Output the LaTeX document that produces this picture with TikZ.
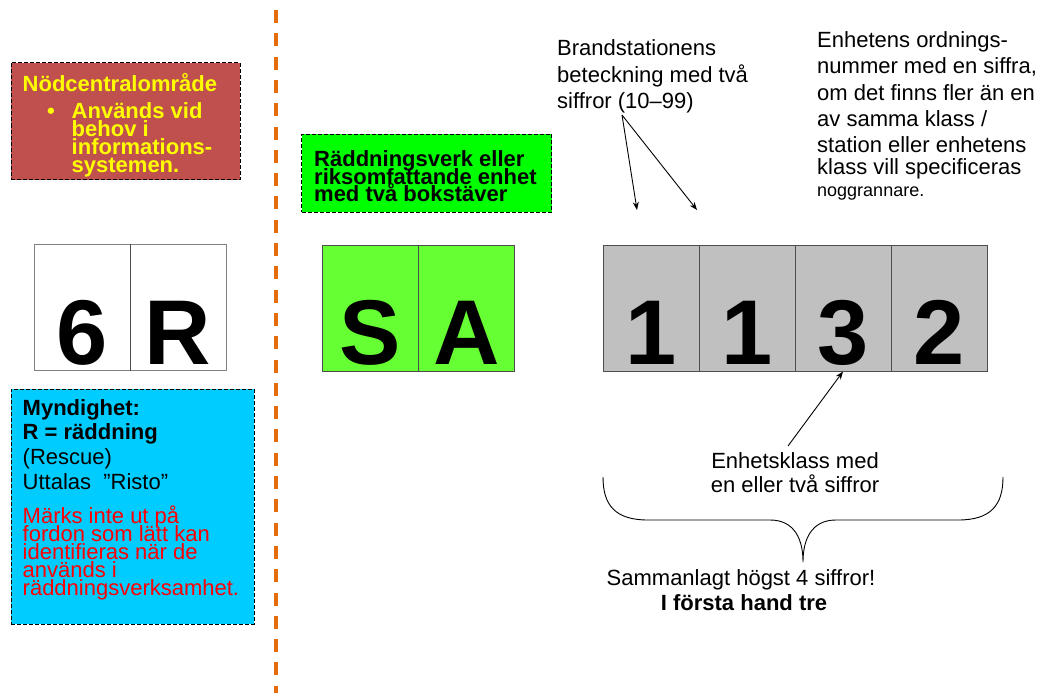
\documentclass[tikz,border=0pt]{standalone}
\usepackage{fontspec}
\setmainfont{Liberation Sans}
\usetikzlibrary{arrows.meta}
\definecolor{redfill}{HTML}{C0504D}
\definecolor{bluefill}{HTML}{00CCFF}
\definecolor{greenfill}{HTML}{00FF00}
\definecolor{safill}{HTML}{66FF33}
\definecolor{grayfill}{HTML}{C0C0C0}
\definecolor{txtyellow}{HTML}{FFFF00}
\definecolor{txtred}{HTML}{FF0000}
\definecolor{orangeline}{HTML}{E46C0A}
\definecolor{boxedge}{HTML}{4D4D4D}
\tikzset{
  infobox/.style={draw=black, dash pattern=on 4pt off 2pt, line width=0.8pt, inner sep=0pt},
  cellbox/.style={draw=boxedge, line width=1pt, inner sep=0pt, minimum width=96pt, minimum height=126pt},
  digit/.style={anchor=base, inner sep=0pt, font=\fontsize{92}{92}\selectfont\bfseries},
  ln/.style={anchor=base west, inner sep=0pt, font=\fontsize{22}{22}\selectfont},
  lnb/.style={ln, font=\fontsize{22}{22}\selectfont\bfseries},
  lnc/.style={anchor=base, inner sep=0pt, font=\fontsize{22}{22}\selectfont},
  arr/.style={-{Stealth[length=8pt,width=6pt]}, line width=0.9pt, black},
}
\begin{document}
\begin{tikzpicture}[x=1pt,y=-1pt]
\useasboundingbox (0,0) rectangle (1040,693);
% orange separator
\coordinate (sepTop) at (276,10);
\coordinate (sepBot) at (276,693);
\draw[orangeline, line width=4.5pt, dash pattern=on 13pt off 10.3pt] (sepTop) -- (sepBot);

% red box
\node[infobox, fill=redfill, minimum width=229pt, minimum height=117pt] (redbox) at (125.5,121) {};
\node[lnb, text=txtyellow] (r1) at (22.5,91.5) {Nödcentralområde};
\node[lnb, text=txtyellow] (rb) at (47,118) {•};
\node[lnb, text=txtyellow] (r2) at (71.5,118) {Används vid};
\node[lnb, text=txtyellow] (r3) at (71.5,136) {behov i};
\node[lnb, text=txtyellow] (r4) at (71.5,154) {informations-};
\node[lnb, text=txtyellow] (r5) at (71.5,172) {systemen.};

% 6R cells
\node[cellbox, fill=white, draw=gray] (c6) at (82,307) {};
\node[cellbox, fill=white, draw=gray] (cR) at (178,307) {};
\draw[boxedge, line width=1pt] (c6.north east) -- (c6.south east);
\node[digit] (t6) at (82,364) {6};
\node[digit] (tR) at (178,364) {R};

% blue box
\node[infobox, fill=bluefill, minimum width=243pt, minimum height=235pt] (bluebox) at (132.5,506.5) {};
\node[lnb] (b1) at (22.5,415) {Myndighet:};
\node[lnb] (b2) at (22.5,439) {R = räddning};
\node[ln] (b3) at (22.5,464.5) {(Rescue)};
\node[ln] (b4) at (22.5,489) {Uttalas\ \ ”Risto”};
\node[ln, text=txtred] (b5) at (22.5,523) {Märks inte ut på};
\node[ln, text=txtred] (b6) at (22.5,541.5) {fordon som lätt kan};
\node[ln, text=txtred] (b7) at (22.5,559.5) {identifieras när de};
\node[ln, text=txtred] (b8) at (22.5,577.5) {används i};
\node[ln, text=txtred] (b9) at (22.5,595.5) {räddningsverksamhet.};

% green box
\node[infobox, fill=greenfill, minimum width=250pt, minimum height=78pt] (greenbox) at (426.5,173) {};
\node[lnb] (g1) at (314,166.5) {Räddningsverk eller};
\node[lnb] (g2) at (314,184) {riksomfattande enhet};
\node[lnb] (g3) at (314,201.5) {med två bokstäver};

% SA cells
\node[cellbox, fill=safill] (cS) at (370.5,308) {};
\node[cellbox, fill=safill] (cA) at (466.5,308) {};
\node[digit] (tS) at (370.5,364) {S};
\node[digit] (tA) at (466.5,364) {A};

% 1132 cells
\node[cellbox, fill=grayfill] (d1) at (651,308) {};
\node[cellbox, fill=grayfill] (d2) at (747,308) {};
\node[cellbox, fill=grayfill] (d3) at (843,308) {};
\node[cellbox, fill=grayfill] (d4) at (939,308) {};
\node[digit] (t1) at (651,364) {1};
\node[digit] (t2) at (747,364) {1};
\node[digit] (t3) at (843,364) {3};
\node[digit] (t4) at (939,364) {2};

% Brandstationens text
\node[ln] (s1) at (557,56) {Brandstationens};
\node[ln] (s2) at (557,82) {beteckning med två};
\node[ln] (s3) at (557,108) {siffror (10–99)};
\coordinate (apex) at (622,115);
\coordinate (tipA) at (637,210);
\coordinate (tipB) at (697,210);
\draw[arr] (apex) -- (tipA);
\draw[arr] (apex) -- (tipB);

% Enhetens text
\node[ln] (e1) at (817,48) {Enhetens ordnings-};
\node[ln] (e2) at (817,74) {nummer med en siffra,};
\node[ln] (e3) at (817,100) {om det finns fler än en};
\node[ln] (e4) at (817,126) {av samma klass /};
\node[ln] (e5) at (817,152) {station eller enhetens};
\node[ln] (e6) at (817,174) {klass vill specificeras};
\node[anchor=base west, inner sep=0pt, font=\fontsize{18}{18}\selectfont] (e7) at (817,196) {noggrannare.};

% Enhetsklass
\node[lnc] (k1) at (795,468) {Enhetsklass med};
\node[lnc] (k2) at (795,492) {en eller två siffror};
\coordinate (kstart) at (788,446);
\draw[arr] (kstart) -- (d3.south);

% brace
\coordinate (brL) at (603,477);
\coordinate (brR) at (1003,477);
\coordinate (brTip) at (803,562);
\draw[line width=0.9pt] (brL) .. controls (603,505) and (615,520) .. (648,520)
  -- (770,520) .. controls (795,520) and (803,540) .. (brTip)
  .. controls (803,540) and (811,520) .. (836,520)
  -- (958,520) .. controls (991,520) and (1003,505) .. (brR);

% summary
\node[lnc] (m1) at (741,585) {Sammanlagt högst 4 siffror!};
\node[lnc, font=\fontsize{22}{22}\selectfont\bfseries] (m2) at (744,610) {I första hand tre};
\end{tikzpicture}
\end{document}
